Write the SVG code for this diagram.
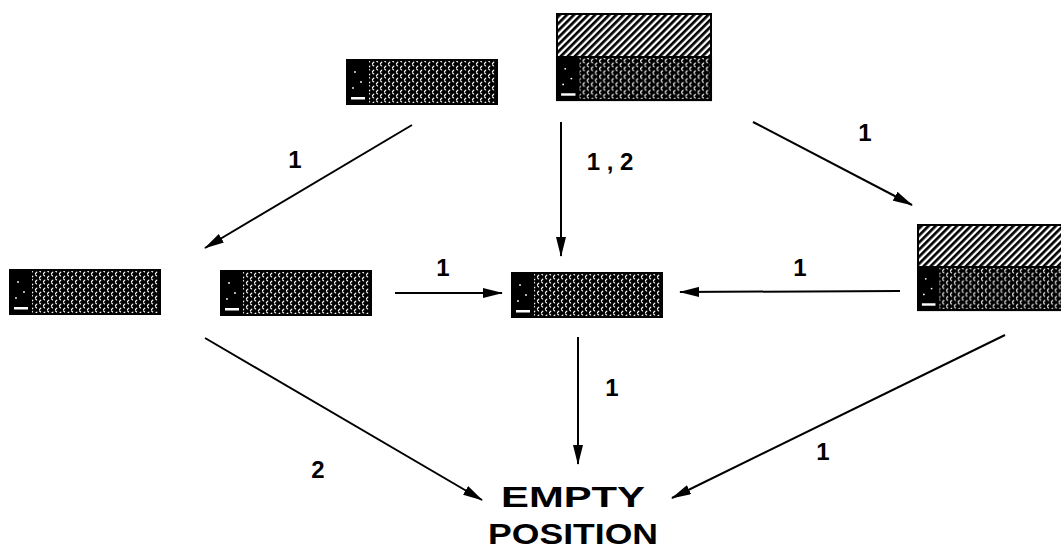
<svg xmlns="http://www.w3.org/2000/svg" width="1061" height="552" viewBox="0 0 1061 552">
<style>
.lbl{font-family:"Liberation Sans",Arial,sans-serif;font-weight:bold;font-size:24px;fill:#000}
.big{font-family:"Liberation Sans",Arial,sans-serif;font-weight:bold;font-size:30px;fill:#000}
.edge{stroke:#000;stroke-width:2;fill:none;marker-end:url(#ah)}
.frame{fill:none;stroke:#000;stroke-width:2}
</style>
<defs>
<pattern id="cross" patternUnits="userSpaceOnUse" width="8" height="8">
<rect width="8" height="8" fill="#000"/>
<path d="M1.5 3.5 L2.8 2.2 M5.5 7.5 L6.8 6.2 M5.5 0.8 L6.6 1.9 M1.5 4.8 L2.6 5.9" stroke="#fff" stroke-width="1.2" stroke-linecap="round"/>
</pattern>
<pattern id="hatch" patternUnits="userSpaceOnUse" width="5" height="5" patternTransform="rotate(45)">
<rect width="5" height="5" fill="#fff"/>
<rect width="2.7" height="5" fill="#000"/>
</pattern>
<marker id="ah" viewBox="0 0 20 10" refX="19" refY="5" markerWidth="10" markerHeight="5" orient="auto" markerUnits="strokeWidth">
<path d="M0 0 L20 5 L0 10 Z" fill="#000"/>
</marker>
<g id="dark">
<rect x="0" y="0" width="150" height="44" fill="url(#cross)"/>
<rect x="0" y="0" width="22" height="44" fill="#000"/>
<circle cx="8" cy="12" r="0.9" fill="#fff"/>
<circle cx="14" cy="22" r="0.9" fill="#fff"/>
<circle cx="6" cy="28" r="0.9" fill="#fff"/>
<rect x="4" y="37" width="14" height="2.5" fill="#fff"/>
<rect x="0" y="0" width="150" height="44" class="frame"/>
</g>
</defs>
<g id="connectors">
<line class="edge" x1="412" y1="125" x2="205" y2="248"/>
<line class="edge" x1="561" y1="122" x2="561" y2="256"/>
<line class="edge" x1="753" y1="122" x2="912" y2="205"/>
<line class="edge" x1="395" y1="293" x2="502" y2="293"/>
<line class="edge" x1="900" y1="291" x2="680" y2="292"/>
<line class="edge" x1="578" y1="337" x2="578" y2="464"/>
<line class="edge" x1="205" y1="338" x2="482" y2="500"/>
<line class="edge" x1="1005" y1="335" x2="672" y2="498"/>
<text class="lbl" x="295" y="168" text-anchor="middle">1</text>
<text class="lbl" x="610" y="170" text-anchor="middle">1 , 2</text>
<text class="lbl" x="865" y="141" text-anchor="middle">1</text>
<text class="lbl" x="443" y="276" text-anchor="middle">1</text>
<text class="lbl" x="800" y="276" text-anchor="middle">1</text>
<text class="lbl" x="612" y="396" text-anchor="middle">1</text>
<text class="lbl" x="318" y="478" text-anchor="middle">2</text>
<text class="lbl" x="823" y="460" text-anchor="middle">1</text>
</g>
<g id="nodeA"><use href="#dark" x="347" y="60"/></g>
<g id="nodeB">
<rect x="557" y="14" width="154" height="43" fill="url(#hatch)"/>
<use href="#dark" transform="translate(557,57) scale(1.0267,0.98)"/>
<rect x="557" y="14" width="154" height="86" class="frame"/>
</g>
<g id="nodeC"><use href="#dark" x="10" y="270"/></g>
<g id="nodeD"><use href="#dark" x="221" y="271"/></g>
<g id="nodeE"><use href="#dark" x="512" y="273"/></g>
<g id="nodeF">
<rect x="918" y="225" width="145" height="42" fill="url(#hatch)"/>
<use href="#dark" transform="translate(918,267) scale(0.97,0.98)"/>
<rect x="918" y="225" width="145" height="85" class="frame"/>
</g>
<g id="nodeEmpty">
<text class="big" x="573" y="507" text-anchor="middle" textLength="144" lengthAdjust="spacingAndGlyphs">EMPTY</text>
<text class="big" x="573" y="544" text-anchor="middle" textLength="170" lengthAdjust="spacingAndGlyphs">POSITION</text>
</g>
</svg>
